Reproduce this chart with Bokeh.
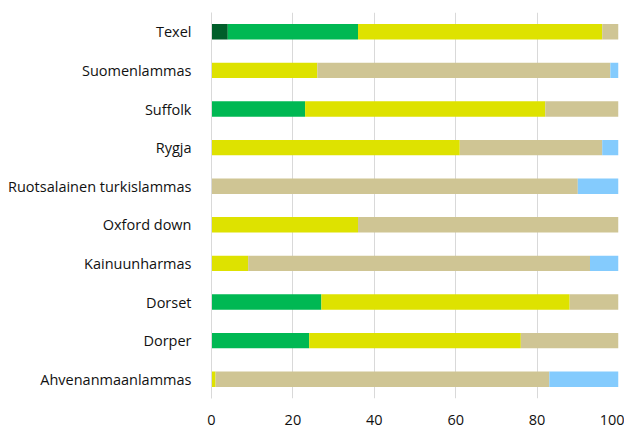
from bokeh.plotting import figure
from bokeh.models import ColumnDataSource, FactorRange, Range1d
from bokeh.embed import file_html
from bokeh.resources import INLINE

breeds = ["Texel", "Suomenlammas", "Suffolk", "Rygja", "Ruotsalainen turkislammas",
          "Oxford down", "Kainuunharmas", "Dorset", "Dorper", "Ahvenanmaanlammas"]
s1 = [4, 0, 0, 0, 0, 0, 0, 0, 0, 0]
s2 = [32, 0, 23, 0, 0, 0, 0, 27, 24, 0]
s3 = [60, 26, 59, 61, 0, 36, 9, 61, 52, 1]
s4 = [4, 72, 18, 35, 90, 64, 84, 12, 24, 82]
s5 = [0, 2, 0, 4, 10, 0, 7, 0, 0, 17]
xticks = [0, 20, 40, 60, 80, 100]

keys = ["s1", "s2", "s3", "s4", "s5"]
colors = ["#005E2A", "#00B853", "#DEE200", "#CFC594", "#84CBFD"]
src = ColumnDataSource(dict(breed=breeds, s1=s1, s2=s2, s3=s3, s4=s4, s5=s5))

p = figure(width=624, height=427, output_backend="svg", toolbar_location=None,
           y_range=FactorRange(factors=list(reversed(breeds)), range_padding=0),
           x_range=Range1d(0, 100), min_border_top=12, min_border_left=211,
           min_border_right=6, min_border_bottom=0)
p.hbar_stack(keys, y="breed", height=0.4, color=colors, source=src, line_color=None)

p.outline_line_color = None
p.ygrid.grid_line_color = None
p.xgrid.grid_line_color = "#D9D9D9"
p.xgrid.grid_line_width = 1
p.xaxis.ticker = xticks
p.xaxis.axis_line_color = None
p.xaxis.major_tick_line_color = None
p.xaxis.minor_tick_line_color = None
p.xaxis.major_label_standoff = 10
p.yaxis.axis_line_color = "#D9D9D9"
p.yaxis.major_tick_line_color = None
p.yaxis.minor_tick_line_color = None
p.yaxis.major_label_standoff = 14
for ax in (p.xaxis, p.yaxis):
    ax.major_label_text_font = "Open Sans"
    ax.major_label_text_font_size = "14.5px"
    ax.major_label_text_color = "#111111"

open("out.html", "w").write(file_html(p, INLINE))
